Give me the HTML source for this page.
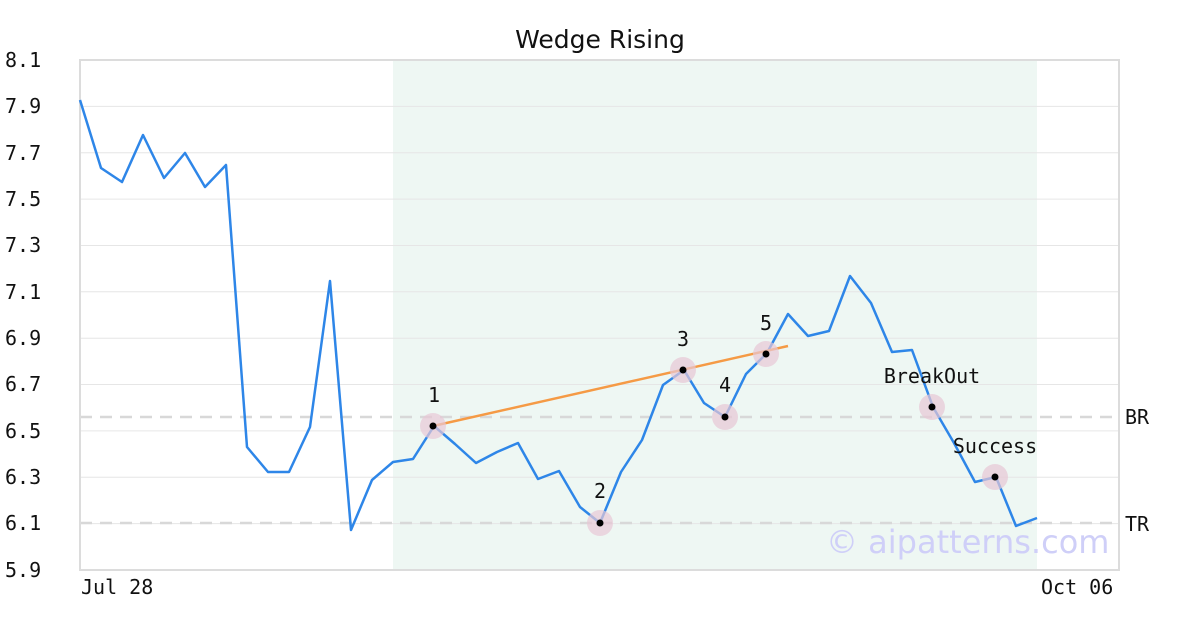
<!DOCTYPE html>
<html><head><meta charset="utf-8"><style>
body{margin:0;background:#fff}
svg{display:block}
text{font-family:"DejaVu Sans Mono","Liberation Mono",monospace;font-size:20px;fill:#111}
</style></head><body>
<svg width="1200" height="630" xmlns="http://www.w3.org/2000/svg">
<rect x="393" y="61" width="644" height="509" fill="#eef7f3"/>
<g stroke="#e6e6e6" stroke-width="1">
<line x1="80" x2="1119" y1="106.4" y2="106.4"/><line x1="80" x2="1119" y1="152.7" y2="152.7"/>
<line x1="80" x2="1119" y1="199.1" y2="199.1"/><line x1="80" x2="1119" y1="245.5" y2="245.5"/>
<line x1="80" x2="1119" y1="291.8" y2="291.8"/><line x1="80" x2="1119" y1="338.2" y2="338.2"/>
<line x1="80" x2="1119" y1="384.5" y2="384.5"/><line x1="80" x2="1119" y1="430.9" y2="430.9"/>
<line x1="80" x2="1119" y1="477.3" y2="477.3"/><line x1="80" x2="1119" y1="523.6" y2="523.6"/>
</g>
<g stroke="#d8d8d8" stroke-width="2.5" stroke-dasharray="12,8">
<line x1="80" x2="1119" y1="417" y2="417"/><line x1="80" x2="1119" y1="523" y2="523"/>
</g>
<rect x="80" y="60" width="1039" height="510" fill="none" stroke="#dcdcdc" stroke-width="2"/>
<text x="826" y="553" style="font-family:'DejaVu Sans','Liberation Sans',sans-serif;font-size:32px;fill:#cfcff8">© aipatterns.com</text>
<polyline fill="none" stroke="#2e86e8" stroke-width="2.5" stroke-linejoin="round" points="80,100 101,168 122,182 143,135 164,178 185,153 205,187 226,165 247,447 268,472 289,472 310,427 330,281 351,530 372,480 393,462 413,459 434,426 455,444 476,463 497,452 518,443 538,479 559,471 580,507 600,523 621,472 642,440 663,385 684,370 704,403 725,417 746,374 767,353 788,314 808,336 829,331 850,276 871,303 892,352 912,350 933,407 954,443 975,482 996,477 1016,526 1037,518"/>
<line x1="433" y1="426" x2="788" y2="346" stroke="#f59a45" stroke-width="2.5"/>
<g fill="#e8c8d6" opacity="0.7">
<circle cx="433" cy="426" r="13"/><circle cx="600" cy="523" r="13"/><circle cx="683" cy="370" r="13"/>
<circle cx="725" cy="417" r="13"/><circle cx="766" cy="354" r="13"/><circle cx="932" cy="407" r="13"/><circle cx="995" cy="477" r="13"/>
</g>
<g fill="#000">
<circle cx="433" cy="426" r="3.5"/><circle cx="600" cy="523" r="3.5"/><circle cx="683" cy="370" r="3.5"/>
<circle cx="725" cy="417" r="3.5"/><circle cx="766" cy="354" r="3.5"/><circle cx="932" cy="407" r="3.5"/><circle cx="995" cy="477" r="3.5"/>
</g>
<g style="font-size:17px" text-anchor="middle">
<text x="434" y="402">1</text><text x="600" y="498">2</text><text x="683" y="346">3</text>
<text x="725" y="392">4</text><text x="766" y="330">5</text><text x="932" y="383">BreakOut</text><text x="995" y="453">Success</text>
</g>
<g>
<text x="5" y="67">8.1</text><text x="5" y="113">7.9</text><text x="5" y="160">7.7</text>
<text x="5" y="206">7.5</text><text x="5" y="252">7.3</text><text x="5" y="299">7.1</text>
<text x="5" y="345">6.9</text><text x="5" y="391">6.7</text><text x="5" y="438">6.5</text>
<text x="5" y="484">6.3</text><text x="5" y="530">6.1</text><text x="5" y="577">5.9</text>
<text x="1125" y="424">BR</text><text x="1125" y="531">TR</text>
<text x="81" y="594">Jul 28</text><text x="1041" y="594">Oct 06</text>
</g>
<text x="600" y="48" text-anchor="middle" style="font-family:'DejaVu Sans','Liberation Sans',sans-serif;font-size:25px">Wedge Rising</text>
</svg>
</body></html>
